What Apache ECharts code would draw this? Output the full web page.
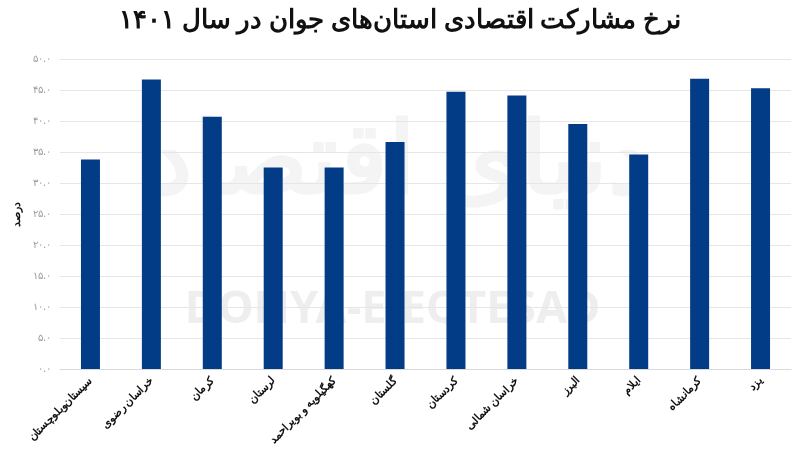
<!DOCTYPE html>
<html><head><meta charset="utf-8">
<script src="https://cdn.jsdelivr.net/npm/echarts@6/dist/echarts.min.js"></script>
<style>html,body{margin:0;padding:0;background:#fff}#c{width:800px;height:450px}</style>
</head><body><div id="c"></div>
<script>
const titleText = 'نرخ مشارکت اقتصادی استان‌های جوان در سال ۱۴۰۱';
const yAxisName = 'درصد';
const categories = ['سیستان‌وبلوچستان','خراسان رضوی','کرمان','لرستان','کهگیلویه و بویراحمد','گلستان','کردستان','خراسان شمالی','البرز','ایلام','کرمانشاه','یزد'];
const values = [33.8, 46.7, 40.7, 32.5, 32.5, 36.6, 44.7, 44.1, 39.5, 34.6, 46.8, 45.3];
const yMin = 0, yMax = 50, yStep = 5;

const fa = s => String(s).replace(/[0-9]/g, d => '۰۱۲۳۴۵۶۷۸۹'[d]);
const chart = echarts.init(document.getElementById('c'), null, {renderer:'canvas'});
chart.setOption({
  backgroundColor:'#fff',
  animation:false,
  title:{text:titleText,left:'center',top:3,textStyle:{fontFamily:'Noto Sans',fontWeight:'bold',fontSize:26,color:'#111'}},
  graphic:[
    {type:'text',left:'center',top:115,z:-10,silent:true,style:{text:'دنیای اقتصاد',font:'bold 100px "Noto Sans"',fill:'#f4f4f4'}},
    {type:'text',left:185,top:288,z:-10,silent:true,style:{text:'DONYA-E-EQTESAD',font:'bold 45px "Noto Sans"',fill:'#eeeeee'}}
  ],
  grid:{left:60,right:9,top:59,bottom:81},
  xAxis:{type:'category',data:categories,
    axisLine:{lineStyle:{color:'#d9d9d9'}},axisTick:{show:false},
    axisLabel:{rotate:45,interval:0,margin:10,color:'#111',fontFamily:'Noto Sans',fontWeight:'bold',fontSize:11}},
  yAxis:{type:'value',min:yMin,max:yMax,interval:yStep,
    name:yAxisName,nameLocation:'middle',nameGap:37,nameRotate:90,
    nameTextStyle:{color:'#111',fontFamily:'Noto Sans',fontWeight:'bold',fontSize:11},
    axisLine:{show:false},axisTick:{show:false},
    splitLine:{lineStyle:{color:'#e6e6e6'}},
    axisLabel:{margin:9,color:'#999',fontFamily:'Noto Sans',fontSize:10,formatter:v=>fa(v.toFixed(1))}},
  series:[{type:'bar',data:values,barWidth:19,itemStyle:{color:'#033c86'}}]
});
</script></body></html>
